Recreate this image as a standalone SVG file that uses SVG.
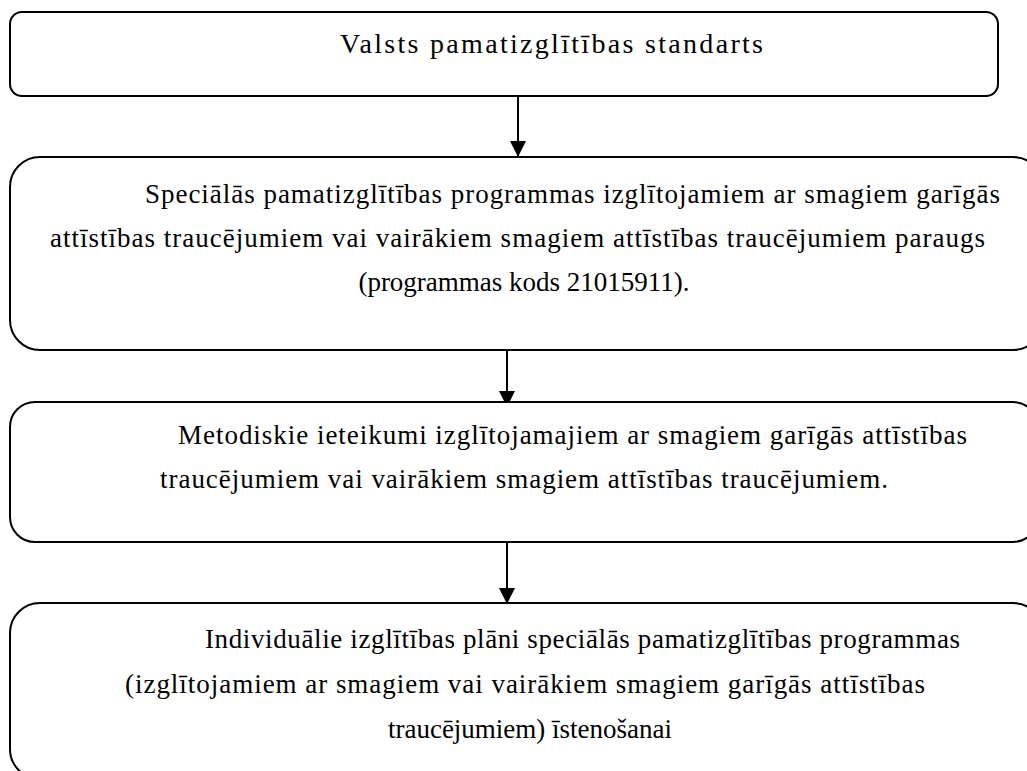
<svg xmlns="http://www.w3.org/2000/svg" width="1027" height="771" viewBox="0 0 1027 771">
  <style>
    .box { fill: #ffffff; stroke: #000000; stroke-width: 2; }
    .t { font-family: "Liberation Serif", "Times New Roman", serif; font-size: 27px; fill: #000000; }
    .c { font-family: "Liberation Serif", "Times New Roman", serif; font-size: 27px; fill: #000000; text-anchor: middle; }
    .title { font-family: "Liberation Serif", "Times New Roman", serif; font-size: 28px; fill: #000000; }
    .conn { stroke: #000000; stroke-width: 2; fill: none; }
  </style>
  <defs>
    <marker id="arrow" markerUnits="userSpaceOnUse" markerWidth="16" markerHeight="16" refX="16" refY="8" orient="auto">
      <path d="M0,0 L16,8 L0,16 Z" fill="#000000"/>
    </marker>
  </defs>
  <rect width="1027" height="771" fill="#ffffff"/>

  <g id="connectors">
    <line class="conn" x1="518" y1="96" x2="518" y2="157" marker-end="url(#arrow)"/>
    <line class="conn" x1="507" y1="350" x2="507" y2="407" marker-end="url(#arrow)"/>
    <line class="conn" x1="507" y1="542" x2="507" y2="604" marker-end="url(#arrow)"/>
  </g>

  <g id="node1">
    <rect class="box" x="10" y="12" width="988" height="84" rx="12" ry="12"/>
    <text class="title" x="340" y="53" textLength="423" lengthAdjust="spacing">Valsts pamatizglītības standarts</text>
  </g>

  <g id="node2">
    <rect class="box" x="10" y="157" width="1033" height="193" rx="30" ry="30"/>
    <text class="t" x="145" y="203" textLength="855" lengthAdjust="spacing">Speciālās pamatizglītības programmas izglītojamiem ar smagiem garīgās</text>
    <text class="t" x="50" y="247" textLength="935" lengthAdjust="spacing">attīstības traucējumiem vai vairākiem smagiem attīstības traucējumiem paraugs</text>
    <text class="c" x="524" y="291">(programmas kods 21015911).</text>
  </g>

  <g id="node3">
    <rect class="box" x="10" y="402" width="1028" height="140" rx="25" ry="25"/>
    <text class="t" x="178" y="444" textLength="789" lengthAdjust="spacing">Metodiskie ieteikumi izglītojamajiem ar smagiem garīgās attīstības</text>
    <text class="t" x="160" y="488" textLength="728" lengthAdjust="spacing">traucējumiem vai vairākiem smagiem attīstības traucējumiem.</text>
  </g>

  <g id="node4">
    <rect class="box" x="10" y="603" width="1033" height="176" rx="30" ry="30"/>
    <text class="t" x="205" y="648" textLength="755" lengthAdjust="spacing">Individuālie izglītības plāni speciālās pamatizglītības programmas</text>
    <text class="t" x="125" y="693" textLength="800" lengthAdjust="spacing">(izglītojamiem ar smagiem vai vairākiem smagiem garīgās attīstības</text>
    <text class="c" x="530" y="738">traucējumiem) īstenošanai</text>
  </g>
</svg>
